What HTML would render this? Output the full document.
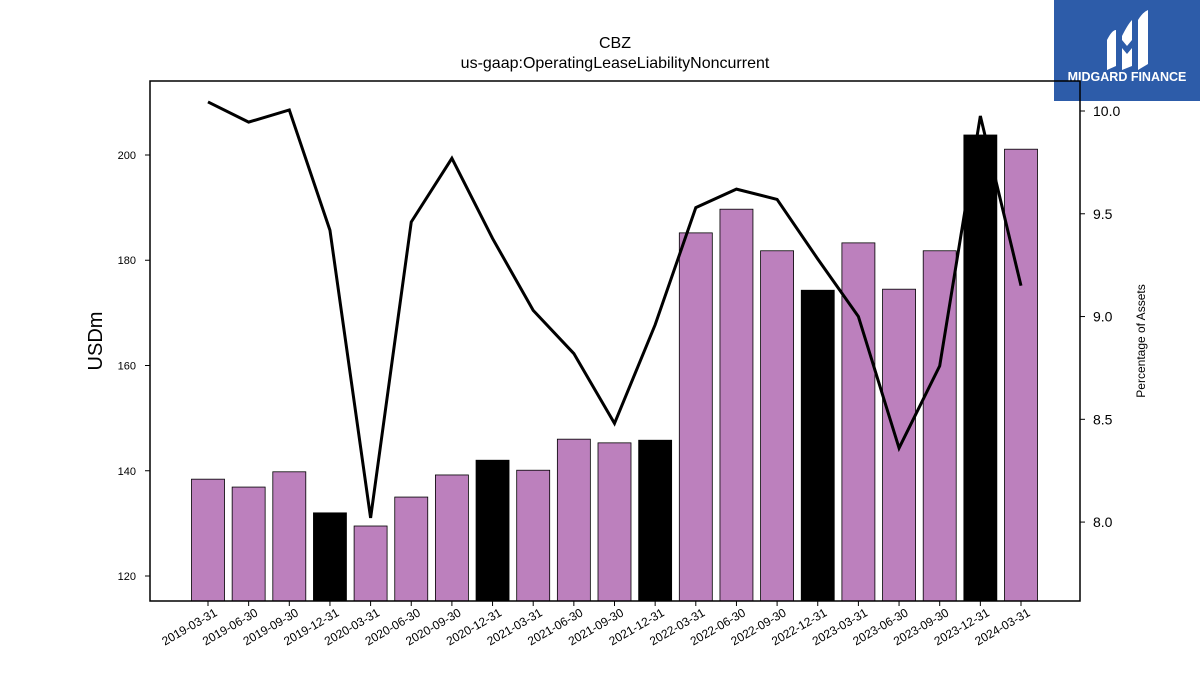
<!DOCTYPE html>
<html><head><meta charset="utf-8"><style>
body{margin:0;background:#fff;}
svg{display:block;font-family:"Liberation Sans","DejaVu Sans",sans-serif;}
</style></head><body>
<svg id="c" width="1200" height="675" xmlns="http://www.w3.org/2000/svg">
<g>
<rect x="1054" y="0" width="146" height="101" fill="#2d5ca9"/>
<path d="M1107 40 Q1112 30 1116 30 L1116 66 L1107 70 Z" fill="#fff"/>
<path d="M1122 36 Q1128 24 1132 20 L1132 40 L1127 46 L1122 40 Z M1122 48 L1127 54 L1132 48 L1132 66 L1122 70 Z" fill="#fff"/>
<path d="M1138 20 Q1143 12 1148 10 L1148 64 L1138 70 Z" fill="#fff"/>
<text x="1127" y="81" font-size="12.5" font-weight="bold" fill="#fff" text-anchor="middle">MIDGARD FINANCE</text>
</g>
<text x="615" y="48" font-size="16" text-anchor="middle">CBZ</text>
<text x="615" y="68" font-size="16" text-anchor="middle">us-gaap:OperatingLeaseLiabilityNoncurrent</text>
<g id="bars"></g><g id="line"></g><g id="axes"></g>
<rect x="150" y="81" width="930" height="520" fill="none" stroke="#000" stroke-width="1.5"/>
<text transform="translate(102,341) rotate(-90)" font-size="20" text-anchor="middle">USDm</text>
<text transform="translate(1145,341) rotate(-90)" font-size="12" text-anchor="middle">Percentage of Assets</text>
</svg>
<script>
const categories=["2019-03-31","2019-06-30","2019-09-30","2019-12-31","2020-03-31","2020-06-30","2020-09-30","2020-12-31","2021-03-31","2021-06-30","2021-09-30","2021-12-31","2022-03-31","2022-06-30","2022-09-30","2022-12-31","2023-03-31","2023-06-30","2023-09-30","2023-12-31","2024-03-31"];
const barValues=[138.4,136.9,139.8,132,129.5,135,139.2,142,140.1,146,145.3,145.8,185.2,189.7,181.8,174.3,183.3,174.5,181.8,203.8,201.1];
const pctValues=[10.044,9.946,10.005,9.42,8.02,9.46,9.77,9.38,9.03,8.82,8.48,8.96,9.53,9.62,9.57,9.28,9.0,8.36,8.76,9.976,9.15];
const leftTicks=[120,140,160,180,200];
const rightTicks=[8.0,8.5,9.0,9.5,10.0];
const NS="http://www.w3.org/2000/svg";
const yL=v=>601-(v-115.25)*(520/(214.06-115.25));
const yR=v=>601-(v-7.616)*(520/(10.146-7.616));
const xC=i=>208+i*40.65;
function mk(t,a,p){const e=document.createElementNS(NS,t);for(const k in a)e.setAttribute(k,a[k]);p.appendChild(e);return e;}
const bars=document.getElementById('bars'),line=document.getElementById('line'),axes=document.getElementById('axes');
barValues.forEach((v,i)=>{
 const y=yL(v);
 const r=mk('rect',{x:xC(i)-16.5,y:y,width:33,height:601-y,fill:(i%4===3)?'#000':'#bc80bd',stroke:'#000','stroke-width':0.8},bars);
 
 
 mk('line',{x1:xC(i),x2:xC(i),y1:601,y2:606,stroke:'#000'},axes);
 const t=mk('text',{x:xC(i)+10,y:615,'font-size':12,'text-anchor':'end',transform:`rotate(-30 ${xC(i)+10} 615)`},axes);
 t.textContent=categories[i];
 
 
});
const pl=mk('polyline',{points:pctValues.map((v,i)=>xC(i)+','+yR(v)).join(' '),fill:'none',stroke:'#000','stroke-width':3},line);


leftTicks.forEach(v=>{const y=yL(v);mk('line',{x1:145,x2:150,y1:y,y2:y,stroke:'#000'},axes);
 const t=mk('text',{x:136,y:y+4,'font-size':11,'text-anchor':'end'},axes);t.textContent=v;
 
 });
rightTicks.forEach(v=>{const y=yR(v);mk('line',{x1:1080,x2:1085,y1:y,y2:y,stroke:'#000'},axes);
 const t=mk('text',{x:1093,y:y+5,'font-size':14},axes);t.textContent=v.toFixed(1);
 
 });
</script>
</body></html>
